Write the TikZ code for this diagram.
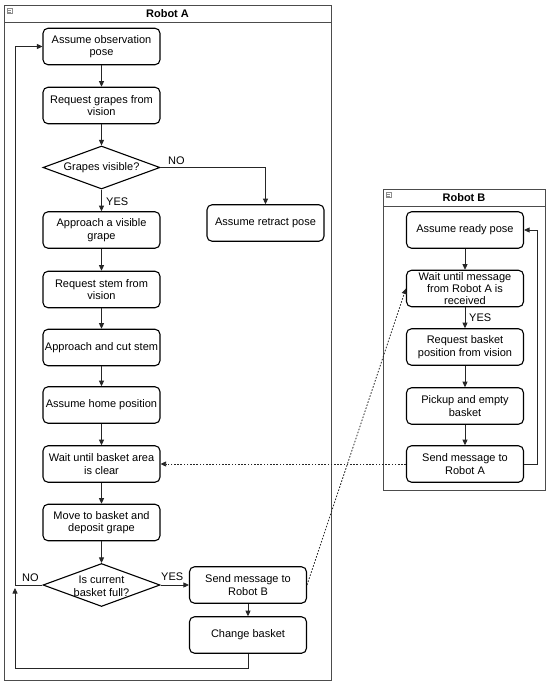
\documentclass[tikz,border=0pt]{standalone}
\usepackage{fontspec}
\setmainfont{Liberation Sans}
\usetikzlibrary{shapes.geometric,arrows.meta}
\begin{document}
\begin{tikzpicture}[x=1pt,y=-1pt,
  txt/.style={font=\fontsize{11}{12.6}\selectfont},
  box/.style={draw, rounded corners=5pt, line width=1.1pt, minimum width=117pt, minimum height=36.5pt, align=center, inner sep=1pt, txt},
  dec/.style={draw, diamond, line width=1.1pt, minimum width=117pt, minimum height=43pt, inner sep=0pt},
  lane/.style={draw=black!70, line width=0.8pt},
  icon/.style={draw=black!45, line width=0.4pt},
  conn/.style={draw=black!85, line width=0.8pt},
  arr/.style={conn, -{Triangle[length=5.5pt,width=5pt]}},
  dot/.style={arr, dash pattern=on 1.6pt off 1.6pt},
  lbl/.style={txt, inner sep=0pt}
]
\useasboundingbox (0,0) rectangle (550,685);
\fill[white] (0,0) rectangle (550,685);

% Robot A container
\draw[lane] (4,5) rectangle (331,680);
\draw[lane] (4,22) -- (331,22);
\node[font=\fontsize{11}{13}\selectfont\bfseries] (titleA) at (167.5,14) {Robot A};
\draw[icon] (7,8.5) rectangle (12,13.5);
\draw[icon] (8,10.3) -- (11,10.3) (8,11.8) -- (11,11.8);

% Robot B container
\draw[lane] (383,189) rectangle (545,490);
\draw[lane] (383,206) -- (545,206);
\node[font=\fontsize{11}{13}\selectfont\bfseries] (titleB) at (464,198) {Robot B};
\draw[icon] (386,192.5) rectangle (391,197.5);
\draw[icon] (387,194.3) -- (390,194.3) (387,195.8) -- (390,195.8);

% Robot A nodes
\node[box] (a1) at (101.5,46.5) {Assume observation\\pose};
\node[box] (a2) at (101.5,105.5) {Request grapes from\\vision};
\node[dec] (d1) at (101.5,167.5) {};
\node[lbl] (d1t) at (d1.center) {Grapes visible?};
\node[box] (a3) at (101.5,230) {Approach a visible\\grape};
\node[box] (ret) at (265.5,223) {Assume retract pose};
\node[box] (a4) at (101.5,289.5) {Request stem from\\vision};
\node[box] (a5) at (101.5,347.5) {Approach and cut stem};
\node[box] (a6) at (101.5,405) {Assume home position};
\node[box] (a7) at (101.5,464) {Wait until basket area\\is clear};
\node[box] (a8) at (101.5,522.5) {Move to basket and\\deposit grape};
\node[dec] (d2) at (101.5,585) {};
\node[lbl, align=center] (d2t) at (101.5,586) {Is current\\basket full?};
\node[box] (a9) at (248,585) {Send message to\\Robot B};
\node[box] (a10) at (248,635) {Change basket};

% Robot B nodes
\node[box] (b1) at (465,230) {Assume ready pose};
\node[box, font=\fontsize{11}{12}\selectfont] (b2) at (465,288.5) {Wait until message\\from Robot A is\\received};
\node[box] (b3) at (465,347) {Request basket\\position from vision};
\node[box] (b4) at (465,406) {Pickup and empty\\basket};
\node[box] (b5) at (465,464) {Send message to\\Robot A};

% coordinates
\coordinate (loopx) at (15,0);
\coordinate (bottomA) at (248,668);
\coordinate (rightB) at (537,0);

% Robot A connectors
\draw[arr] (a1) -- (a2);
\draw[arr] (a2) -- (d1);
\draw[arr] (d1) -- (a3);
\draw[arr] (d1.east) -| (ret.north);
\draw[arr] (a3) -- (a4);
\draw[arr] (a4) -- (a5);
\draw[arr] (a5) -- (a6);
\draw[arr] (a6) -- (a7);
\draw[arr] (a7) -- (a8);
\draw[arr] (a8) -- (d2);
\draw[arr] (d2.east) -- (a9.west);
\draw[arr] (a9) -- (a10);
\draw[arr] (d2.west) -- (d2.west -| loopx) |- (a1.west);
\draw[arr] (a10.south) -- (bottomA) -- (bottomA -| loopx) -- ([yshift=-3pt]d2.west -| loopx);

\node[lbl, anchor=west] (yes1) at (106,202) {YES};
\node[lbl, anchor=west] (no1) at (168,161) {NO};
\node[lbl, anchor=west] (no2) at (22,578) {NO};
\node[lbl, anchor=west] (yes2) at (161,577) {YES};

% Robot B connectors
\draw[arr] (b1) -- (b2);
\draw[arr] (b2) -- (b3);
\draw[arr] (b3) -- (b4);
\draw[arr] (b4) -- (b5);
\draw[arr] (b5.east) -- (b5.east -| rightB) |- (b1.east);
\node[lbl, anchor=west] (yes3) at (469,318) {YES};

% cross-lane messages
\draw[dot] (a9.east) -- (b2.west);
\draw[dot] (b5.west) -- (b5.west -| a7.east);
\end{tikzpicture}
\end{document}
